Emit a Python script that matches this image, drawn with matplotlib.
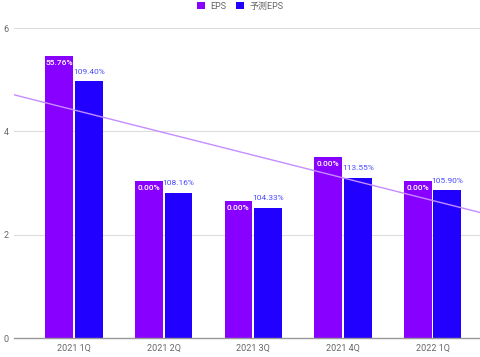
import matplotlib
matplotlib.use("Agg")
import matplotlib.pyplot as plt
import numpy as np

# ---- data ----
quarters = ["2021 1Q", "2021 2Q", "2021 3Q", "2021 4Q", "2022 1Q"]
eps = [5.46, 3.04, 2.65, 3.50, 3.04]
eps_forecast = [4.97, 2.81, 2.52, 3.10, 2.86]
eps_labels = ["55.76%", "0.00%", "0.00%", "0.00%", "0.00%"]
forecast_labels = ["109.40%", "108.16%", "104.33%", "113.55%", "105.90%"]

plt.rcParams["font.family"] = ["Roboto", "Noto Sans CJK JP", "DejaVu Sans"]

C_EPS = "#8800ff"
C_FC = "#2200ff"
C_TREND = "#c58cff"
GREY = "#666666"

fig = plt.figure(figsize=(4.8, 3.57), dpi=100)
ax = fig.add_axes([14 / 480, 19 / 357, 1 - 14 / 480, 310 / 357])

x = np.arange(len(quarters))
w = 0.31
gap = 0.011
ax.bar(x - w / 2 - gap, eps, width=w, color=C_EPS, label="EPS", zorder=2)
ax.bar(x + w / 2 + gap, eps_forecast, width=w, color=C_FC, label="予測EPS", zorder=2)

for i in range(len(x)):
    ax.text(x[i] - w / 2 - gap, eps[i] - 0.07, eps_labels[i], ha="center", va="top",
            color="white", fontsize=6.0, fontweight="medium", zorder=4)
    ax.text(x[i] + w / 2 + gap, eps_forecast[i] + 0.13, forecast_labels[i], ha="center",
            va="bottom", color="#4a4aff", fontsize=6.0, zorder=4)

# linear trendline on EPS
xlim = (-0.67, 4.53)
k, b = np.polyfit(x, eps, 1)
tx = np.array(xlim)
ax.plot(tx, k * tx + b, color=C_TREND, linewidth=1.0, zorder=3)

ax.set_xlim(*xlim)
ax.set_ylim(0, 6)
ax.set_yticks([0, 2, 4, 6])
ax.set_xticks(x)
ax.set_xticklabels(quarters)
ax.tick_params(axis="both", length=0, labelsize=6.5, colors=GREY)
ax.tick_params(axis="y", pad=4)
ax.tick_params(axis="x", pad=4)
ax.grid(axis="y", color="#dddddd", linewidth=0.8, zorder=0)
ax.set_axisbelow(True)
for s in ["top", "right", "left"]:
    ax.spines[s].set_visible(False)
ax.spines["bottom"].set_color("#999999")
ax.spines["bottom"].set_linewidth(1.0)

fig.legend(loc="upper center", bbox_to_anchor=(0.5, 1.018), ncol=2, frameon=False,
           fontsize=6.5, labelcolor=GREY, handlelength=0.9, handleheight=0.9,
           handletextpad=0.6, columnspacing=1.0)

fig.savefig("out.png", dpi=100)
